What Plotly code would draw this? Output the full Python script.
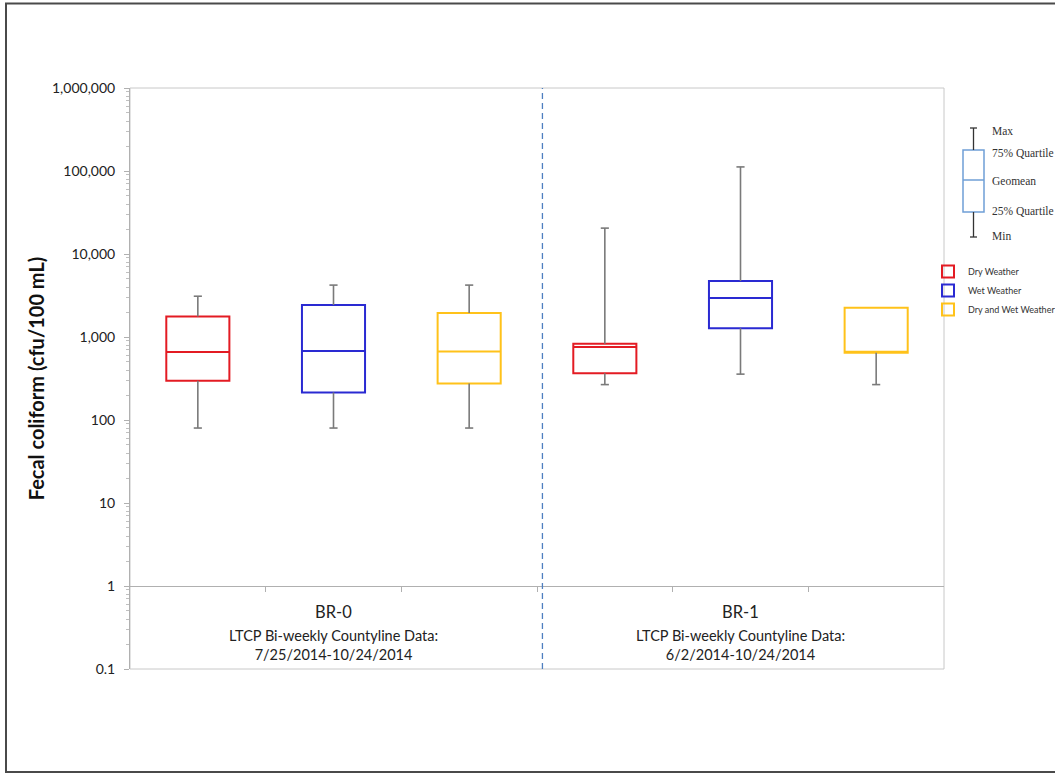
import plotly.graph_objects as go

# ---------------- data ----------------
sites = ["BR-0", "BR-1"]
periods = ["LTCP Bi-weekly Countyline Data:<br>7/25/2014-10/24/2014",
           "LTCP Bi-weekly Countyline Data:<br>6/2/2014-10/24/2014"]
series_names = ["Dry Weather", "Wet Weather", "Dry and Wet Weather"]
series_colors = ["#e31b23", "#2a2ad2", "#ffc21a"]

# values per site [BR-0, BR-1]
dry_min = [80, 267]
dry_q1 = [297, 367]
dry_geomean = [660, 760]
dry_q3 = [1760, 830]
dry_max = [3100, 20500]

wet_min = [80, 357]
wet_q1 = [215, 1275]
wet_geomean = [680, 2960]
wet_q3 = [2430, 4720]
wet_max = [4220, 112000]

all_min = [80, 267]
all_q1 = [276, 644]
all_geomean = [668, 644]
all_q3 = [1950, 2250]
all_max = [4220, 2250]

y_tickvals = [0.1, 1, 10, 100, 1000, 10000, 100000, 1000000]
y_ticktext = ["0.1", "1", "10", "100", "1,000", "10,000", "100,000", "1,000,000"]
key_labels = ["Max", "75% Quartile", "Geomean", "25% Quartile", "Min"]

stats = [
    (dry_min, dry_q1, dry_geomean, dry_q3, dry_max),
    (wet_min, wet_q1, wet_geomean, wet_q3, wet_max),
    (all_min, all_q1, all_geomean, all_q3, all_max),
]

# ---------------- layout geometry ----------------
W, H = 1055, 774
ML, MR, MT, MB = 130, 111, 88, 105
PW, PH = W - ML - MR, H - MT - MB


def pxx(px):
    return (px - ML) / PW


def pxy(py):
    return (H - MB - py) / PH


n_series = len(series_names)
fig = go.Figure()

wx, wy = [], []
cap = 0.03
for si, (mn, q1, md, q3, mx) in enumerate(stats):
    xs = [gi * n_series + si for gi in range(len(sites))]
    fig.add_trace(go.Box(
        x=xs, q1=q1, median=md, q3=q3, lowerfence=q1, upperfence=q3,
        width=0.465, name=series_names[si],
        line=dict(color=series_colors[si], width=2),
        fillcolor="rgba(255,255,255,0)", boxpoints=False,
        hoverinfo="skip",
    ))
    for k, x in enumerate(xs):
        if mx[k] > q3[k]:
            wx += [x, x, None, x - cap, x + cap, None]
            wy += [q3[k], mx[k], None, mx[k], mx[k], None]
        if mn[k] < q1[k]:
            wx += [x, x, None, x - cap, x + cap, None]
            wy += [q1[k], mn[k], None, mn[k], mn[k], None]

fig.add_trace(go.Scatter(x=wx, y=wy, mode="lines",
                         line=dict(color="#7a7a7a", width=1.6),
                         showlegend=False, hoverinfo="skip"))

n_cats = len(sites) * n_series
shapes = []
# plot border
shapes.append(dict(type="rect", xref="paper", yref="paper", x0=0, x1=1, y0=0, y1=1,
                   line=dict(color="#c8c8c8", width=1), layer="below"))
# divider between sites
shapes.append(dict(type="line", xref="x", yref="paper", x0=n_series - 0.46, x1=n_series - 0.46,
                   y0=0, y1=1, line=dict(color="#4f7fc0", width=1.3, dash="6px,4px")))
# outer frame
shapes.append(dict(type="line", xref="paper", yref="paper", x0=pxx(6), x1=pxx(6),
                   y0=pxy(3), y1=pxy(772), line=dict(color="#4a4a4a", width=2)))
shapes.append(dict(type="line", xref="paper", yref="paper", x0=pxx(5), x1=pxx(1055),
                   y0=pxy(3.5), y1=pxy(3.5), line=dict(color="#4a4a4a", width=2)))
shapes.append(dict(type="line", xref="paper", yref="paper", x0=pxx(5), x1=pxx(1055),
                   y0=pxy(772), y1=pxy(772), line=dict(color="#4a4a4a", width=2)))

# key schematic
kc = "#6f9fd6"
shapes.append(dict(type="rect", xref="paper", yref="paper", x0=pxx(963), x1=pxx(984),
                   y0=pxy(150), y1=pxy(212), line=dict(color=kc, width=1.5)))
shapes.append(dict(type="line", xref="paper", yref="paper", x0=pxx(963), x1=pxx(984),
                   y0=pxy(180), y1=pxy(180), line=dict(color=kc, width=1.5)))
for ya, yb in [(128, 150), (212, 237)]:
    shapes.append(dict(type="line", xref="paper", yref="paper", x0=pxx(973.5), x1=pxx(973.5),
                       y0=pxy(ya), y1=pxy(yb), line=dict(color="#333333", width=1.3)))
for yc in [128, 237]:
    shapes.append(dict(type="line", xref="paper", yref="paper", x0=pxx(970), x1=pxx(977),
                       y0=pxy(yc), y1=pxy(yc), line=dict(color="#333333", width=1.3)))

annotations = []
key_y = [131, 153, 181, 211, 236]
for lab, yy in zip(key_labels, key_y):
    annotations.append(dict(text=lab, xref="paper", yref="paper", x=pxx(990), y=pxy(yy),
                            xanchor="left", yanchor="middle", showarrow=False,
                            font=dict(family="Liberation Serif", size=11.5, color="#333333")))

for gi, (site, per) in enumerate(zip(sites, periods)):
    xc = gi * n_series + (n_series - 1) / 2
    annotations.append(dict(text=site, xref="x", yref="paper", x=xc, y=pxy(612),
                            xanchor="center", yanchor="middle", showarrow=False,
                            font=dict(family="Lato", size=16.5, color="#222222")))
    annotations.append(dict(text=per, xref="x", yref="paper", x=xc, y=pxy(645),
                            xanchor="center", yanchor="middle", showarrow=False,
                            font=dict(family="Lato", size=14.5, color="#222222")))

fig.update_layout(
    width=W, height=H,
    margin=dict(l=ML, r=MR, t=MT, b=MB, pad=0, autoexpand=False),
    paper_bgcolor="white", plot_bgcolor="white",
    boxmode="overlay",
    showlegend=True,
    legend=dict(x=pxx(928), y=pxy(257), xanchor="left", yanchor="top",
                font=dict(family="Lato", size=9, color="#333333"),
                bgcolor="rgba(0,0,0,0)", itemwidth=30, tracegroupgap=0),
    xaxis=dict(range=[-0.5, n_cats - 0.5], anchor="free", position=1 / 7,
               showline=True, linecolor="#b0b0b0", linewidth=1,
               ticks="outside", ticklen=5, tickcolor="#b0b0b0",
               tickvals=[i + 0.5 for i in range(n_cats - 1)],
               showticklabels=False, showgrid=False, zeroline=False, automargin=False),
    yaxis=dict(type="log", range=[-1, 6], tickvals=y_tickvals, ticktext=y_ticktext,
               showline=True, linecolor="#b0b0b0", linewidth=1,
               ticks="outside", ticklen=5, tickcolor="#b0b0b0",
               minor=dict(ticks="outside", ticklen=3, tickcolor="#c0c0c0", dtick="D1"),
               showgrid=False, zeroline=False, automargin=False,
               ticklabelstandoff=6,
               tickfont=dict(family="Lato", size=14, color="#222222"),
               title=dict(text="<b>Fecal coliform (cfu/100 mL)</b>",
                          font=dict(family="Lato", size=20, color="#111111"), standoff=1)),
    shapes=shapes,
    annotations=annotations,
)

fig.write_html("out.html", config={"displayModeBar": False},
               post_script="document.body.style.margin='0px';document.body.style.overflow='hidden';")
